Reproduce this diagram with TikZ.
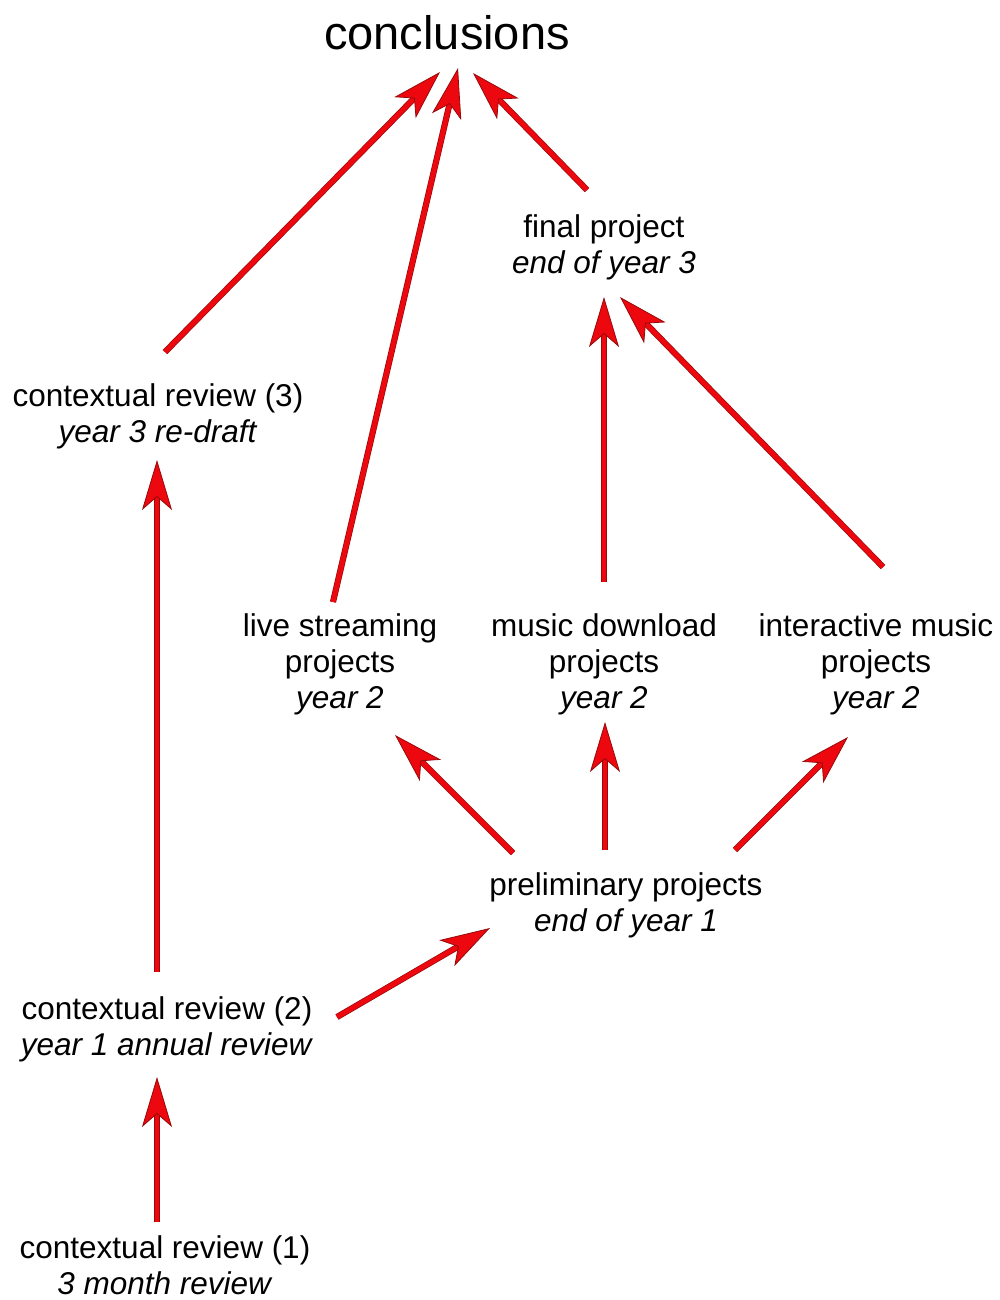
\documentclass[tikz,border=0pt]{standalone}
\usepackage{fontspec}
\setmainfont{Liberation Sans}
\usetikzlibrary{arrows.meta}
\definecolor{arrowred}{RGB}{236,8,14}
\definecolor{arrowedge}{RGB}{150,10,10}
\tikzset{
  lbl/.style={align=center, inner sep=0pt, font=\fontsize{31.5}{36}\selectfont},
  title/.style={inner sep=0pt, font=\fontsize{47}{52}\selectfont},
  link/.style={
    preaction={draw=arrowedge, line width=6.2pt, arrows={-}, shorten >=30pt},
    draw=arrowred, line width=4.8pt,
    -{Stealth[length=50pt, width=30pt, inset=13pt, line width=0.8pt, fill=arrowred, color=arrowedge]}
  }
}
\begin{document}
\begin{tikzpicture}[x=1pt, y=-1pt]
  \useasboundingbox (0,0) rectangle (999,1300);

  % outcome at the top
  \node[title] (concl) at (447,33) {conclusions};

  % nodes of the plan
  \node[lbl] (final)  at (604,247)  {final project\\\textit{end of year 3}};
  \node[lbl] (cr3)    at (158,416)  {contextual review (3)\\\textit{year 3 re-draft}};
  \node[lbl] (live)   at (340,664)  {live streaming\\projects\\\textit{year 2}};
  \node[lbl] (mdl)    at (604,664)  {music download\\projects\\\textit{year 2}};
  \node[lbl] (inter)  at (876,664)  {interactive music\\projects\\\textit{year 2}};
  \node[lbl] (prelim) at (626,905)  {preliminary projects\\\textit{end of year 1}};
  \node[lbl] (cr2)    at (167,1029) {contextual review (2)\\\textit{year 1 annual review}};
  \node[lbl] (cr1)    at (165,1265) {contextual review (1)\\\textit{3 month review}};

  % connectors
  \draw[link] ([shift={(7,-64)}]cr3.center)     -- ([shift={(-7,39)}]concl.center);
  \draw[link] ([shift={(-7,-62)}]live.center)   -- ([shift={(11,35)}]concl.center);
  \draw[link] ([shift={(-17,-57)}]final.center) -- ([shift={(26,40)}]concl.center);
  \draw[link] ([shift={(0,-82)}]mdl.center)     -- ([shift={(0,50)}]final.center);
  \draw[link] ([shift={(7,-97)}]inter.center)   -- ([shift={(16,50)}]final.center);
  \draw[link] ([shift={(-113,-52)}]prelim.center) -- ([shift={(55,71)}]live.center);
  \draw[link] ([shift={(-21,-55)}]prelim.center)  -- ([shift={(1,58)}]mdl.center);
  \draw[link] ([shift={(109,-55)}]prelim.center)  -- ([shift={(-28,73)}]inter.center);
  \draw[link] ([shift={(170,-12)}]cr2.center)   -- ([shift={(-136,23)}]prelim.center);
  \draw[link] ([shift={(-10,-57)}]cr2.center)   -- ([shift={(-1,44)}]cr3.center);
  \draw[link] ([shift={(-8,-43)}]cr1.center)    -- ([shift={(-10,48)}]cr2.center);
\end{tikzpicture}
\end{document}
